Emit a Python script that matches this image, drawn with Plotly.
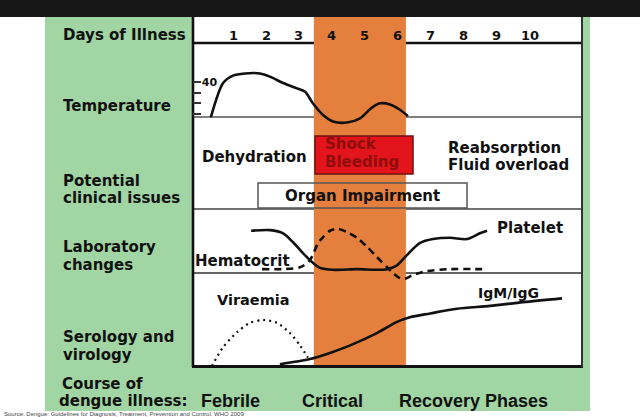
import plotly.graph_objects as go

W, H = 640, 417

# ---------------- data ----------------
days = [1, 2, 3, 4, 5, 6, 7, 8, 9, 10]
day_labels = [str(d) for d in days]
critical_phase = [3.45, 6.24]          # orange band, in days

temp_day = [0.33, 0.70, 1.00, 1.36, 1.82, 2.12, 2.52, 2.94, 3.18, 3.42, 3.73, 4.03, 4.45, 4.85, 5.21, 5.45, 5.76, 6.06, 6.30]
temp_c = [36.7, 39.9, 40.6, 40.8, 40.8, 40.5, 39.9, 39.4, 39.1, 38.0, 36.9, 36.3, 36.2, 36.6, 37.6, 38.0, 37.9, 37.4, 36.8]
temp_ticks = [37, 38, 39, 40]
temp_tick_text = ["", "", "", "40"]

platelet_day = [1.55, 2.12, 2.52, 2.82, 3.12, 3.42, 3.64, 4.03, 4.76, 5.36, 5.67, 5.97, 6.27, 6.67, 7.06, 7.58, 8.09, 8.48, 8.70]
platelet_lvl = [66, 67, 62, 48, 31, 16, 8, 5, 6, 5, 6, 12, 28, 47, 53, 55, 53, 62, 66]

hct_day = [1.88, 3.03, 3.33, 3.58, 3.73, 3.94, 4.18, 4.45, 4.76, 5.06, 5.36, 5.67, 5.85, 6.06, 6.21, 6.45, 6.88, 7.58, 8.55]
hct_lvl = [6, 9, 20, 47, 56, 66, 69, 64, 55, 41, 25, 9, 0, -8, -9, -3, 3, 6, 6]

viraemia_day = [0.36, 0.70, 1.12, 1.52, 1.91, 2.33, 2.73, 3.03, 3.27]
viraemia_lvl = [1, 21, 37, 47, 50, 47, 36, 23, 10]

igm_day = [2.42, 3.33, 3.94, 4.55, 5.36, 5.97, 6.36, 6.97, 7.79, 8.79, 9.79, 10.97]
igm_lvl = [3, 8.5, 15, 23, 36, 48, 53, 57, 62, 65, 69, 73]

row_labels = [["Days of Illness"], ["Temperature"], ["Potential", "clinical issues"],
              ["Laboratory", "changes"], ["Serology and", "virology"], ["Course of", "dengue illness:"]]
phase_labels = ["Febrile", "Critical", "Recovery Phases"]

# ---------------- helpers ----------------
def px(x):
    return x / W

def py(y):
    return 1 - y / H

GREEN = "#a1d5a3"
ORANGE = "#e47f3e"
RED = "#e3141c"
FONT = "DejaVu Sans"
BOLD = dict(family=FONT, size=15, color="#111111", weight="bold")

fig = go.Figure()

line_black = dict(color="#111111", width=2.6)
fig.add_trace(go.Scatter(x=temp_day, y=temp_c, mode="lines", line=dict(line_black, shape="spline", smoothing=0.8),
                         yaxis="y", hoverinfo="skip", showlegend=False))
fig.add_trace(go.Scatter(x=platelet_day, y=platelet_lvl, mode="lines", line=dict(line_black, shape="spline", smoothing=0.8),
                         yaxis="y2", hoverinfo="skip", showlegend=False))
fig.add_trace(go.Scatter(x=hct_day, y=hct_lvl, mode="lines",
                         line=dict(color="#111111", width=2.6, shape="spline", smoothing=0.8, dash="7px,5px"),
                         yaxis="y2", hoverinfo="skip", showlegend=False))
fig.add_trace(go.Scatter(x=viraemia_day, y=viraemia_lvl, mode="lines",
                         line=dict(color="#111111", width=2.2, shape="spline", smoothing=0.8, dash="2px,4px"),
                         yaxis="y3", hoverinfo="skip", showlegend=False))
fig.add_trace(go.Scatter(x=igm_day, y=igm_lvl, mode="lines", line=dict(line_black, shape="spline", smoothing=0.8),
                         yaxis="y3", hoverinfo="skip", showlegend=False))

shapes = []
def rect(x0, y0, x1, y1, fill, lc="rgba(0,0,0,0)", lw=0):
    shapes.append(dict(type="rect", xref="paper", yref="paper", x0=px(x0), x1=px(x1), y0=py(y1), y1=py(y0),
                       fillcolor=fill, line=dict(color=lc, width=lw), layer="below"))

def hline(y, x0, x1, color, width):
    shapes.append(dict(type="line", xref="paper", yref="paper", x0=px(x0), x1=px(x1), y0=py(y), y1=py(y),
                       line=dict(color=color, width=width), layer="below"))

def vline(x, y0, y1, color, width):
    shapes.append(dict(type="line", xref="paper", yref="paper", x0=px(x), x1=px(x), y0=py(y0), y1=py(y1),
                       line=dict(color=color, width=width), layer="below"))

rect(0, 0, 640, 17, "#171717")
rect(45, 17, 590, 411, GREEN)
rect(193, 17, 582, 367, "white")
hline(43, 193, 582, "#111111", 2.6)
hline(117, 193, 582, "#555555", 1.6)
hline(209, 193, 582, "#444444", 1.6)
hline(273, 193, 582, "#333333", 1.6)
shapes.append(dict(type="rect", xref="x", yref="paper", x0=critical_phase[0], x1=critical_phase[1],
                   y0=py(366), y1=py(17), fillcolor=ORANGE, line=dict(width=0), layer="below"))
rect(258, 183, 467, 208, "rgba(0,0,0,0)", "#555555", 1.5)
rect(315, 136, 413, 174, RED, "#6b1212", 1.5)
vline(193, 17, 367, "#111111", 2.6)
hline(366.5, 192, 583, "#111111", 3)
vline(582, 17, 367, "#333333", 2)

ann = []
def text(t, x, y, font, xanchor="left", xref="paper"):
    ann.append(dict(text=t, x=(px(x) if xref == "paper" else x), y=py(y), xref=xref, yref="paper",
                    xanchor=xanchor, yanchor="middle", showarrow=False, font=font))

# row labels (left column)
row_y = [[35], [106], [181, 198], [247, 265], [337, 355], [384, 401]]
row_x = [[61], [61], [61, 61], [61, 61], [61, 61], [60, 57]]
for lines, ys, xs in zip(row_labels, row_y, row_x):
    for t, y, x in zip(lines, ys, xs):
        text(t, x, y, BOLD)

# day numbers
for d, lab in zip(days, day_labels):
    text(lab, d, 35, dict(family=FONT, size=13, color="#111111", weight="bold"), xanchor="center", xref="x")

# panel texts
text("Dehydration", 200, 157, BOLD)
text("Shock", 323, 144, dict(family=FONT, size=15, color="#8e0d0d", weight="bold"))
text("Bleeding", 323, 162, dict(family=FONT, size=15, color="#8e0d0d", weight="bold"))
text("Reabsorption", 446, 148, BOLD)
text("Fluid overload", 446, 165, BOLD)
text("Organ Impairment", 362, 196, BOLD, xanchor="center")
text("Platelet", 495, 228, BOLD)
text("Hematocrit", 193, 261, BOLD)
text("Viraemia", 215, 300, dict(family=FONT, size=14.5, color="#111111", weight="bold"))
text("IgM/IgG", 476, 293, dict(family=FONT, size=14, color="#111111", weight="bold"))

# phases
PH = dict(family="Liberation Sans, Arial, sans-serif", size=18, color="#111111", weight="bold")
for t, cx in zip(phase_labels, [230, 332, 473]):
    text(t, cx, 401, PH, xanchor="center")

# source line
text("Source: Dengue: Guidelines for Diagnosis, Treatment, Prevention and Control. WHO 2009", 2, 413.5,
     dict(family="Liberation Sans", size=6, color="#444444"))

fig.update_layout(
    width=W, height=H, margin=dict(l=0, r=0, t=0, b=0),
    paper_bgcolor="white", plot_bgcolor="rgba(0,0,0,0)",
    shapes=shapes, annotations=ann, showlegend=False,
    xaxis=dict(domain=[px(193), px(582)], range=[-0.212, 11.576], visible=False, fixedrange=True, anchor="y"),
    yaxis=dict(domain=[py(130), py(44)], range=[35.5, 43.56], anchor="x", showgrid=False, zeroline=False,
               showline=False, tickvals=temp_ticks, ticktext=temp_tick_text, ticks="inside", ticklen=8,
               tickwidth=1.5, tickcolor="#333333", ticklabelposition="inside",
               tickfont=dict(family=FONT, size=11, color="#111111", weight="bold"), fixedrange=True),
    yaxis2=dict(domain=[py(290), py(209)], range=[-26.56, 100], anchor="x", visible=False, fixedrange=True),
    yaxis3=dict(domain=[py(367), py(273)], range=[0, 100], anchor="x", visible=False, fixedrange=True),
)

fig.write_html("out.html", config={"displayModeBar": False},
               post_script="document.body.style.margin='0';document.body.style.overflow='hidden';")
